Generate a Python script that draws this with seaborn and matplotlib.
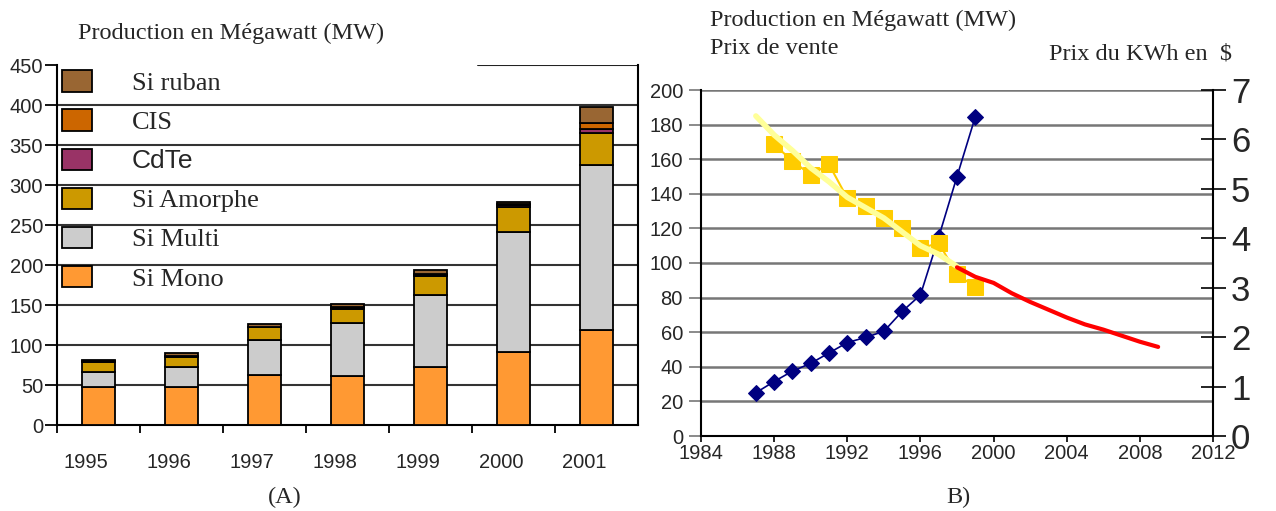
import numpy as np
import pandas as pd
import matplotlib
matplotlib.use('Agg')
import matplotlib.pyplot as plt
import seaborn as sns
from matplotlib import font_manager
from matplotlib.patches import Patch

# ---- (A) production par filière, MW ----
annees = [1995, 1996, 1997, 1998, 1999, 2000, 2001]
si_mono = [48, 48, 62, 61, 72.5, 91, 119]
si_multi = [18, 25, 44.5, 66, 89.5, 150, 205.5]
si_amorphe = [13, 12.5, 15.5, 18, 24.5, 31, 40]
cdte = [0.5, 0.5, 0.5, 1, 1, 3, 5]
cis = [0.5, 0.5, 0.5, 1, 1, 1, 8.5]
si_ruban = [1, 3, 3.5, 4.5, 5, 2.5, 20]

filieres = ['Si ruban', 'CIS', 'CdTe', 'Si Amorphe', 'Si Multi', 'Si Mono']
couleurs = ['#996633', '#CC6600', '#993366', '#CC9900', '#CCCCCC', '#FF9933']

# ---- (B) production et prix ----
annees_mw = [1987, 1988, 1989, 1990, 1991, 1992, 1993, 1994, 1995, 1996, 1997, 1998, 1999]
production_mw = [25, 31.5, 37.5, 42, 48, 54, 57, 60.5, 72, 81.5, 115, 150, 184.5]
annees_prix = [1988, 1989, 1990, 1991, 1992, 1993, 1994, 1995, 1996, 1997, 1998, 1999]
prix_vente = [168.5, 159, 151, 157, 137.5, 133, 126, 120.5, 108.5, 111.5, 93.5, 86]
annees_tendance = [1987, 1988, 1989, 1990, 1991, 1992, 1993, 1994, 1995, 1996, 1997, 1998]
tendance = [185, 174, 165, 155, 147, 138, 132, 126, 118, 110, 105, 98]
annees_proj = [1998, 1999, 2000, 2001, 2002, 2003, 2004, 2005, 2006, 2007, 2008, 2009]
projection = [97.5, 92, 88.5, 82.5, 77.5, 73, 68.5, 64.5, 61.5, 58, 54.5, 51.5]

sns.set_theme(style='white')
noms = {f.name for f in font_manager.fontManager.ttflist}
narrow = 'Liberation Sans Narrow' in noms
SANS_N = 'Liberation Sans Narrow' if narrow else 'Liberation Sans'
SANS = 'Liberation Sans'
SERIF = 'Liberation Serif'
TICK = 16 if narrow else 14.5
plt.rcParams['font.family'] = [SANS, 'DejaVu Sans']

W, H = 1276, 511
fig = plt.figure(figsize=(W / 100, H / 100), dpi=100)


def frac(x0, x1, ytop, ybot):
    return [x0 / W, 1 - ybot / H, (x1 - x0) / W, (ybot - ytop) / H]


# ================== (A) barres empilées ==================
ax1 = fig.add_axes(frac(57, 638, 65, 425))
df_a = pd.DataFrame({'annee': annees, 'Si ruban': si_ruban, 'CIS': cis, 'CdTe': cdte,
                     'Si Amorphe': si_amorphe, 'Si Multi': si_multi, 'Si Mono': si_mono})
df_a = df_a.melt(id_vars='annee', var_name='filiere', value_name='mw')
sns.histplot(data=df_a, x='annee', weights='mw', hue='filiere', hue_order=filieres,
             palette=dict(zip(filieres, couleurs)), multiple='stack', discrete=True,
             shrink=0.4, edgecolor='black', linewidth=1.3, alpha=1, legend=False,
             ax=ax1, zorder=3)
ax1.set_xlim(1994.5, 2001.5)
ax1.set_ylim(0, 450)
ax1.set_xlabel('')
ax1.set_ylabel('')
ax1.set_yticks(range(0, 451, 50))
ax1.set_yticklabels([str(v) for v in range(0, 451, 50)], fontsize=TICK, fontfamily=SANS_N)
for v in range(50, 401, 50):
    ax1.axhline(v, color='#333333', lw=1.5, zorder=1)
ax1.axhline(450, xmin=0.725, xmax=1, color='#222222', lw=1.5, zorder=1)
ax1.set_xticks([a - 0.15 for a in annees])
ax1.set_xticklabels([str(a) for a in annees], fontsize=TICK, fontfamily=SANS_N)
ax1.set_xticks([a - 0.5 for a in annees], minor=True)
ax1.tick_params(axis='x', which='major', length=0, pad=20)
ax1.tick_params(axis='x', which='minor', length=6, width=1.3, color='black', direction='out', bottom=True)
ax1.tick_params(axis='y', length=9, width=1.3, color='black', direction='out', left=True, pad=1)
ax1.spines['top'].set_visible(False)
for s in ['left', 'right', 'bottom']:
    ax1.spines[s].set_color('black')
    ax1.spines[s].set_linewidth(1.5)

handles = [Patch(facecolor=c, edgecolor='black', linewidth=1.3) for c in couleurs]
leg = ax1.legend(handles, filieres, loc='upper left', bbox_to_anchor=(0.008, 0.985),
                 frameon=False, prop={'family': SERIF, 'size': 19},
                 handlelength=1.15, handleheight=0.87, handletextpad=1.5,
                 labelspacing=0.54, borderaxespad=0, borderpad=0)
leg.get_texts()[2].set_fontfamily(SANS)

# ================== (B) production / prix ==================
ax2 = fig.add_axes(frac(701, 1213, 90, 436))
sns.lineplot(x=annees_mw, y=production_mw, color='#000080', marker='D', markersize=8,
             markeredgecolor='#000080', linewidth=1.2, ax=ax2, zorder=3)
sns.lineplot(x=annees_prix, y=prix_vente, color='#FFCC00', marker='s', markersize=11,
             markeredgecolor='#FFCC00', linewidth=1.5, ax=ax2, zorder=4)
sns.lineplot(x=annees_tendance, y=tendance, color='#FFFF99', linewidth=4, ax=ax2, zorder=5)
sns.lineplot(x=annees_proj, y=projection, color='#FF0000', linewidth=3, ax=ax2, zorder=5)
ax2.set_xlim(1984, 2012)
ax2.set_ylim(0, 200)
ax2.set_xticks(range(1984, 2013, 4))
ax2.set_xticklabels([str(a) for a in range(1984, 2013, 4)], fontsize=TICK, fontfamily=SANS_N)
ax2.set_yticks(range(0, 201, 20))
ax2.set_yticklabels([str(v) for v in range(0, 201, 20)], fontsize=TICK, fontfamily=SANS_N)
ax2.yaxis.grid(True, color='#777777', lw=1.8)
ax2.xaxis.grid(False)
ax2.set_axisbelow(True)
ax2.tick_params(axis='x', length=4, width=1.2, color='black', direction='out', bottom=True, pad=2)
ax2.tick_params(axis='y', length=9, width=1.2, color='#777777', direction='out', left=True, pad=4)
ax2.spines['top'].set_visible(False)
ax2.spines['right'].set_visible(False)
for s in ['left', 'bottom']:
    ax2.spines[s].set_color('black')
    ax2.spines[s].set_linewidth(1.5)

ax3 = ax2.twinx()
ax3.set_ylim(0, 7)
ax3.set_yticks(range(0, 8))
ax3.set_yticklabels([str(v) for v in range(0, 8)], fontsize=25, fontfamily=SANS)
ax3.tick_params(axis='y', length=18, width=1.2, color='black', direction='inout', right=True, pad=4)
ax3.grid(False)
for s in ['top', 'left', 'bottom']:
    ax3.spines[s].set_visible(False)
ax3.spines['right'].set_color('black')
ax3.spines['right'].set_linewidth(1.5)

# ---- textes ----
fig.text(78 / W, 1 - 33 / H, 'Production en Mégawatt (MW)', fontsize=17.5, fontfamily=SERIF, va='center')
fig.text(710 / W, 1 - 20 / H, 'Production en Mégawatt (MW)', fontsize=17.5, fontfamily=SERIF, va='center')
fig.text(710 / W, 1 - 48 / H, 'Prix de vente', fontsize=17.5, fontfamily=SERIF, va='center')
fig.text(1232 / W, 1 - 54 / H, 'Prix du KWh en  $', fontsize=17.5, fontfamily=SERIF, va='center', ha='right')
fig.text(285 / W, 1 - 497 / H, '(A)', fontsize=17.5, fontfamily=SERIF, va='center', ha='center')
fig.text(958 / W, 1 - 497 / H, 'B)', fontsize=17.5, fontfamily=SERIF, va='center', ha='center')

fig.savefig('out.png', dpi=100)
